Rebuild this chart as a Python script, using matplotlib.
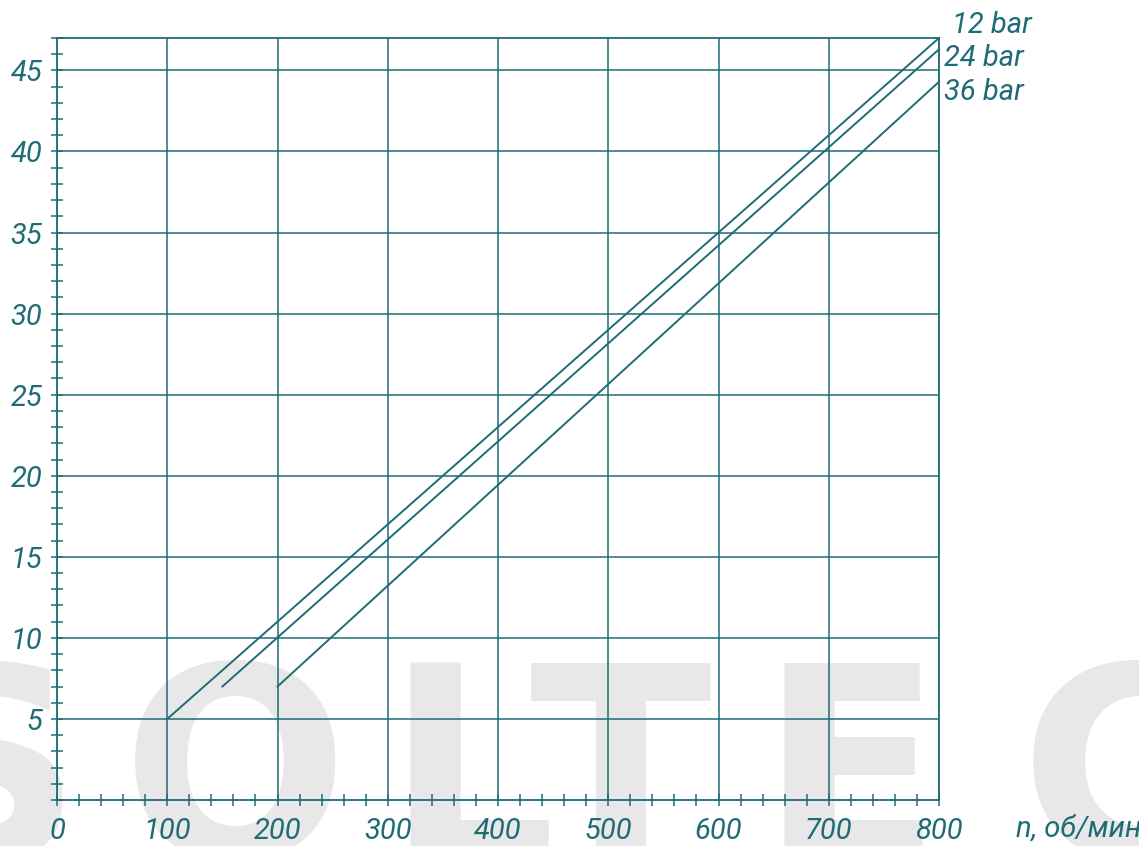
import matplotlib
matplotlib.use("Agg")
import matplotlib.pyplot as plt
from matplotlib.ticker import MultipleLocator

# flow vs speed, three pressures
series_names = ["12 bar", "24 bar", "36 bar"]
rpm_12 = [100, 800]
flow_12 = [5, 47]
rpm_24 = [150, 800]
flow_24 = [7, 46.3]
rpm_36 = [200, 800]
flow_36 = [7, 44.3]

x_ticks = [0, 100, 200, 300, 400, 500, 600, 700, 800]
y_ticks = [5, 10, 15, 20, 25, 30, 35, 40, 45]

teal = "#1f6b78"
fam = ["Roboto", "DejaVu Sans"]
lab_font = dict(family=fam, style="italic", weight="normal", color=teal)

fig = plt.figure(figsize=(11.39, 8.46), dpi=100)
ax = fig.add_axes([57 / 1139, 46 / 846, 882 / 1139, 762 / 846])
ax.patch.set_alpha(0)

# background watermark letters
for letter, xpix in zip("SOLTEC", [-110, 122, 386, 530, 760, 1020]):
    fig.text(xpix / 1139, -12 / 846, letter, fontsize=192, fontweight="bold",
             family="DejaVu Sans", color="#e8e8e8", zorder=-5, ha="left", va="baseline")

ax.plot(rpm_12, flow_12, color=teal, lw=1.4, clip_on=False)
ax.plot(rpm_24, flow_24, color=teal, lw=1.4, clip_on=False)
ax.plot(rpm_36, flow_36, color=teal, lw=1.4, clip_on=False)

ax.set_xlim(0, 800)
ax.set_ylim(0, 47)
ax.set_xticks(x_ticks)
ax.set_yticks(y_ticks)
ax.xaxis.set_minor_locator(MultipleLocator(20))
ax.yaxis.set_minor_locator(MultipleLocator(1))
ax.grid(True, which="major", color=teal, lw=1.1)
for s in ax.spines.values():
    s.set_color(teal)
    s.set_linewidth(1.3)

ax.tick_params(which="both", direction="inout", color=teal, width=1.1)
ax.tick_params(which="major", length=9)
ax.tick_params(which="minor", length=8)
ax.tick_params(axis="x", pad=8)
ax.tick_params(axis="y", pad=6)
for t in ax.get_xticklabels() + ax.get_yticklabels():
    t.set_fontsize(21)
    t.set_fontfamily(fam)
    t.set_fontstyle("italic")
    t.set_fontweight("normal")
    t.set_color(teal)

ax.text(1.087, -0.038, "n, об/мин", transform=ax.transAxes, fontsize=21,
        ha="left", va="center", **lab_font)

# series labels at the right end
label_y = [25, 58, 92]
label_x = [952, 944, 944]
for name, lx, ly in zip(series_names, label_x, label_y):
    fig.text(lx / 1139, 1 - ly / 846, name, fontsize=21, ha="left", va="center", **lab_font)

fig.savefig("out.png", dpi=100)
